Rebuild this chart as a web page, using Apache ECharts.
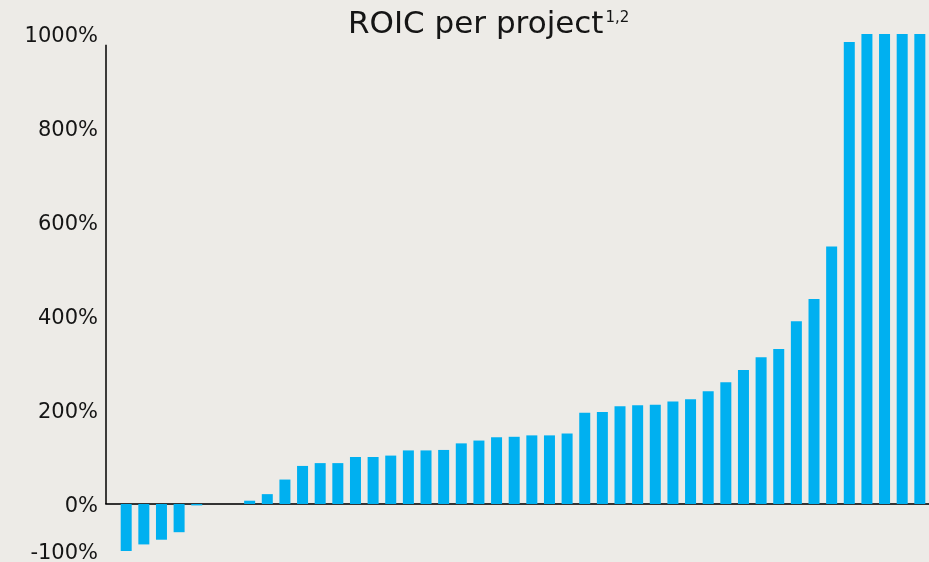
<!DOCTYPE html>
<html>
<head>
<meta charset="utf-8">
<script src="https://cdn.jsdelivr.net/npm/echarts@6/dist/echarts.min.js"></script>
<style>
  html, body { margin: 0; padding: 0; background: #EDEBE7; }
  #chart { width: 929px; height: 562px; }
</style>
</head>
<body>
<div id="chart"></div>
<script>
// Projects (one bar each), sorted by ROIC
const projects = Array.from({length: 46}, (_, i) => i + 1);
// ROIC per project in %, capped at 1000% (missing projects = null)
const roicValues = [
  -100, -86, -76, -60, -3,
  null, null,
  7, 21, 52, 81, 87, 87, 100, 100, 103, 114, 114, 115,
  129, 135, 142, 143, 146, 146, 150,
  194, 196, 208, 210, 211, 218, 223, 240, 259, 285, 312, 330,
  389, 436, 548, 983, 1000, 1000, 1000, 1000
];
// Y-axis tick labels shown
const yTickLabels = [-100, 0, 200, 400, 600, 800, 1000];
const yMin = -100, yMax = 1000, yStep = 100;
const yAxisLineTop = 977;

const FONT = 'DejaVu Sans';
const chart = echarts.init(document.getElementById('chart'), null, {renderer: 'canvas'});
chart.setOption({
  backgroundColor: '#EDEBE7',
  animation: false,
  title: {
    text: '{a|ROIC per project}{b|1,2}',
    left: 343,
    top: 2,
    textStyle: {
      fontWeight: 'normal',
      rich: {
        a: { fontFamily: FONT, fontSize: 31, fontWeight: 'normal', color: '#151515', lineHeight: 36 },
        b: { fontFamily: FONT, fontSize: 15, fontWeight: 'normal', color: '#151515', padding: [0, 0, 13, 2], lineHeight: 36 }
      }
    }
  },
  grid: { left: 106, right: 0, top: 34, bottom: 11, containLabel: false, outerBoundsMode: 'none' },
  xAxis: {
    type: 'value',
    min: -1.145,
    max: 45.52,
    axisLine: { show: true, onZero: true, lineStyle: { color: '#333', width: 2 } },
    axisTick: { show: false },
    axisLabel: { show: false },
    splitLine: { show: false }
  },
  yAxis: {
    type: 'value',
    min: yMin,
    max: yMax,
    interval: yStep,
    axisLine: { show: false },
    axisTick: { show: false },
    splitLine: { show: false },
    axisLabel: {
      margin: 8,
      formatter: v => yTickLabels.includes(v) ? '{t|' + v + '%}' : '',
      rich: {
        t: { fontFamily: FONT, fontSize: 21, color: '#151515', padding: [6, 0, 0, 0] }
      }
    }
  },
  series: [{
    type: 'bar',
    barWidth: 11,
    data: roicValues.map((v, i) => [i, v]),
    itemStyle: { color: '#00B0F0' },
    z: 2,
    markLine: {
      silent: true,
      symbol: 'none',
      label: { show: false },
      lineStyle: { color: '#000', width: 1.5, type: 'solid' },
      data: [[ { coord: [-1.145, 0] }, { coord: [-1.145, yAxisLineTop] } ]]
    }
  }]
});
</script>
</body>
</html>
